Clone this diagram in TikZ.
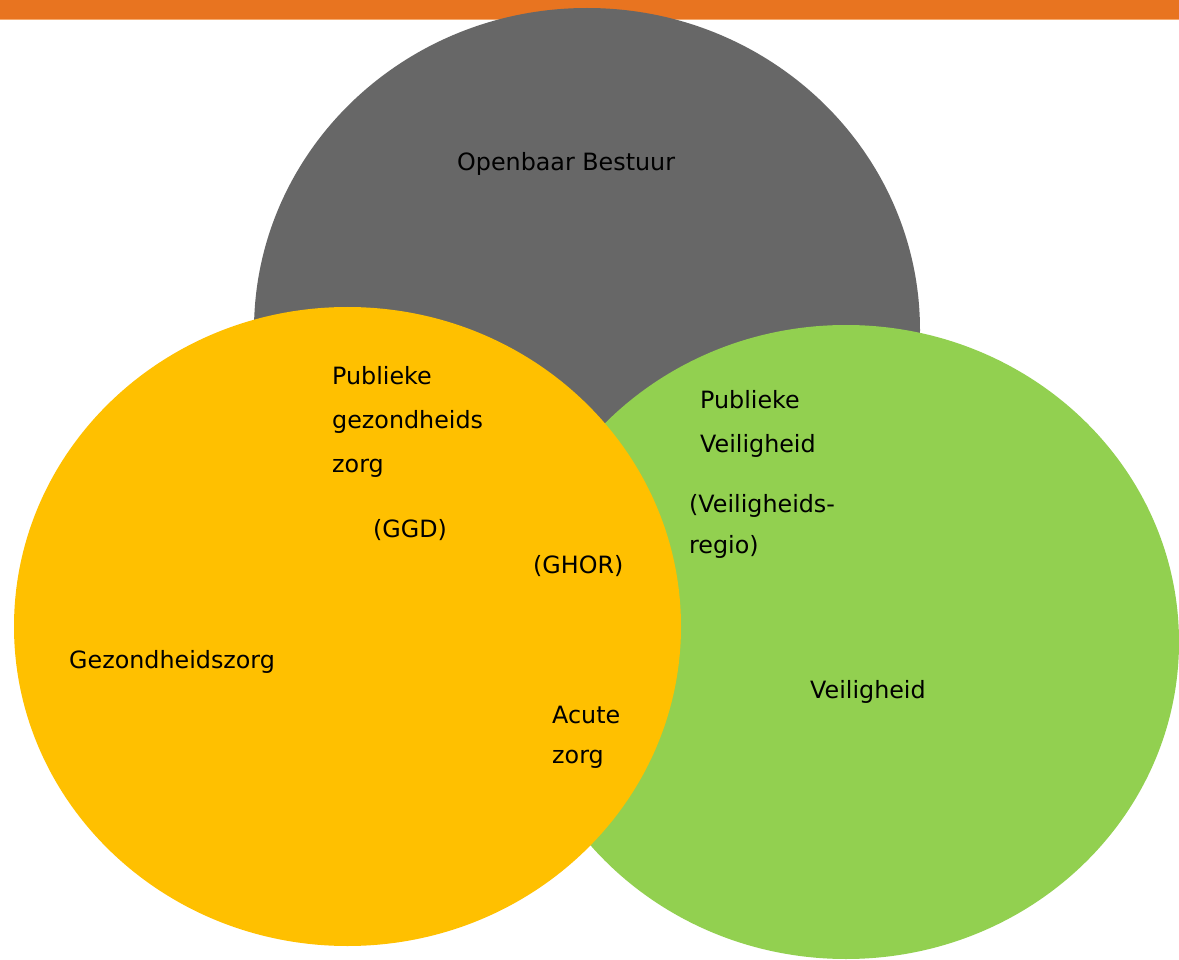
\documentclass[tikz,border=0pt]{standalone}
\usepackage{fontspec}
\setmainfont{DejaVu Sans}
\definecolor{barorange}{RGB}{232,116,32}
\definecolor{barline}{RGB}{245,170,110}
\definecolor{govgray}{RGB}{103,103,103}
\definecolor{careyellow}{RGB}{255,192,0}
\definecolor{safegreen}{RGB}{146,208,80}
\tikzset{
  lbl/.style={anchor=base west, inner sep=0pt, font=\fontsize{23.8}{44}\selectfont, text=black}
}
\begin{document}
\begin{tikzpicture}[x=1pt,y=-1pt]
\useasboundingbox (0,0) rectangle (1179,960);
\fill[white] (0,0) rectangle (1179,960);
\fill[barorange] (0,0) rectangle (1179,19);
\fill[barline] (0,19) rectangle (1179,20.5);
\fill[govgray] (587,330) ellipse [x radius=333, y radius=322];
\fill[safegreen] (846,642) ellipse [x radius=333, y radius=317];
\fill[careyellow] (347.5,626.5) ellipse [x radius=333.5, y radius=319.5];

\node[lbl] (ob) at (457,171) {Openbaar Bestuur};
\node[lbl] (pg1) at (332,384) {Publieke};
\node[lbl] (pg2) at (332,428) {gezondheids};
\node[lbl] (pg3) at (332,472) {zorg};
\node[lbl] (ggd) at (373,537) {(GGD)};
\node[lbl] (ghor) at (533,573) {(GHOR)};
\node[lbl] (pv1) at (700,408) {Publieke};
\node[lbl] (pv2) at (700,452) {Veiligheid};
\node[lbl] (vr1) at (689,512) {(Veiligheids-};
\node[lbl] (vr2) at (689,553) {regio)};
\node[lbl] (gz) at (69,668) {Gezondheidszorg};
\node[lbl] (vh) at (810,698) {Veiligheid};
\node[lbl] (az1) at (552,723) {Acute};
\node[lbl] (az2) at (552,763) {zorg};
\end{tikzpicture}
\end{document}
